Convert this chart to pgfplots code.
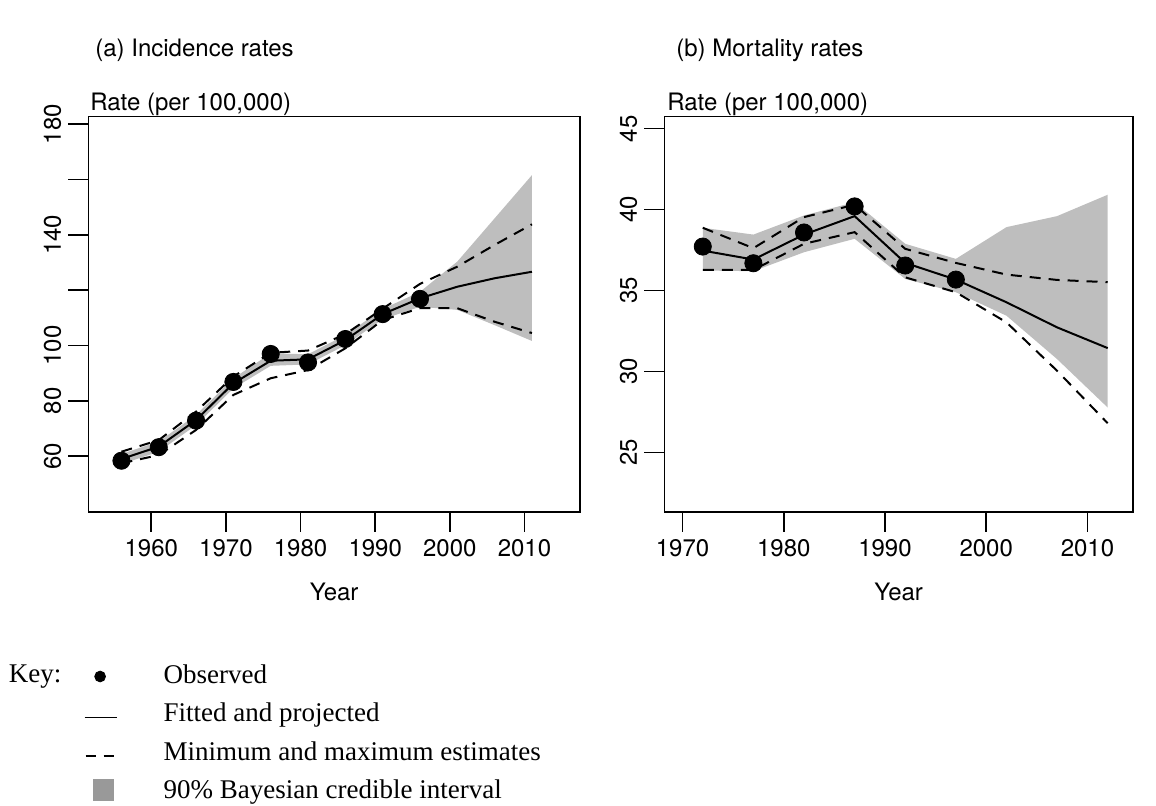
\documentclass[border=0pt]{standalone}
\usepackage{fontspec}
\setmainfont{TeX Gyre Heros}
\newfontfamily\keyfont{Liberation Serif}
\usepackage{pgfplots}
\pgfplotsset{compat=1.18}
\usepgfplotslibrary{fillbetween}
\usepackage{pgfplotstable}

\definecolor{band}{RGB}{190,190,190}
\definecolor{keygrey}{RGB}{153,153,153}

% Incidence: fitted/projected, min/max estimates, 90% interval
\pgfplotstableread{
year fit    lo     hi     bl     bu
1956 59.01  57.48  61.66  57.17  60.85
1961 63.50  60.44  65.85  61.66  65.34
1966 73.10  69.53  76.16  71.26  74.94
1971 86.37  82.19  88.82  84.54  88.21
1976 94.54  88.21  97.40  92.70  97.19
1981 95.05  91.17  98.22  93.21  96.89
1986 101.99 99.03  104.14 100.16 103.83
1991 111.39 109.24 113.33 109.55 113.23
1996 117.10 113.53 122.31 114.04 119.45
2001 121.29 113.53 128.54 112.92 130.38
2006 124.35 108.63 136.40 107.40 146.00
2011 126.70 104.55 143.85 101.69 161.62
}\incid
\pgfplotstableread{
year obs
1956 58.40
1961 63.30
1966 72.90
1971 86.88
1976 96.99
1981 93.93
1986 102.40
1991 111.39
1996 116.90
}\incidobs

% Mortality
\pgfplotstableread{
year fit   lo    hi    bl    bu
1972 37.47 36.28 38.88 36.24 38.88
1977 36.92 36.28 37.62 36.20 38.46
1982 38.46 37.89 39.54 37.37 39.64
1987 39.60 38.61 40.30 38.20 40.46
1992 36.71 35.82 37.58 35.72 37.89
1997 35.68 34.90 36.71 34.90 36.96
2002 34.28 33.04 35.99 33.45 38.92
2007 32.73 30.05 35.66 30.77 39.60
2012 31.45 26.81 35.52 27.78 40.92
}\mort
\pgfplotstableread{
year obs
1972 37.72
1977 36.69
1982 38.59
1987 40.20
1992 36.55
1997 35.68
}\mortobs

\pgfplotsset{
  rbase/.style={
    scale only axis,
    axis line style={line width=0.8bp},
    every tick/.style={line width=0.8bp, black},
    tick align=outside,
    major tick length=10bp,
    xtick pos=left,
    ytick pos=left,
    tick label style={font=\fontsize{12bp}{14bp}\selectfont},
    /pgf/number format/assume math mode=true,
    /pgf/number format/1000 sep={},
    yticklabel style={rotate=90, anchor=south},
    xticklabel style={anchor=north},
    xlabel style={font=\fontsize{12bp}{14bp}\selectfont,
      at={(axis description cs:0.5,0)}, anchor=base, yshift=-44.5bp},
  },
  fitline/.style={black, line width=1bp},
  mmline/.style={black, line width=1bp, dash pattern=on 5.5bp off 4bp},
  obsdots/.style={only marks, mark=*, mark size=4.3bp,
    mark options={fill=black, draw=black}},
}

\begin{document}
\begin{tikzpicture}
\path (0bp,0bp) rectangle (578bp,399bp);

% (a) Incidence rates
\begin{axis}[rbase,
  at={(44.15bp,143bp)}, anchor=south west,
  width=245.85bp, height=197.65bp,
  xmin=1951.56, xmax=2017.44, ymin=39.87, ymax=182.75,
  xtick={1960,1970,...,2010},
  ytick={60,80,100,120,140,160,180},
  yticklabels={60,80,100,,140,,180},
  xlabel={Year},
  legend style={draw=none, fill=none, inner sep=0pt, outer sep=0pt,
    at={(axis description cs:-0.0087,-0.382)}, anchor=north west,
    font=\keyfont\fontsize{13.5bp}{16bp}\selectfont,
    nodes={inner sep=0pt, text height=10bp, text depth=3.5bp},
    row sep=5.8bp, column sep=23bp},
  legend cell align=left,
]
\addplot[name path=ib, draw=none, forget plot] table[x=year,y=bl] {\incid};
\addplot[name path=it, draw=none, forget plot] table[x=year,y=bu] {\incid};
\addplot[band, forget plot] fill between[of=ib and it];
\addplot[mmline, forget plot] table[x=year,y=lo] {\incid};
\addplot[mmline, forget plot] table[x=year,y=hi] {\incid};
\addplot[fitline, forget plot] table[x=year,y=fit] {\incid};
\addplot[obsdots, forget plot] table[x=year,y=obs] {\incidobs};

\addlegendimage{legend image code/.code={
  \path[draw=none, fill=none] (0bp,-5bp) rectangle (15.5bp,5bp);
  \fill[black] (7.8bp,0bp) circle (2.7bp);}}
\addlegendentry{Observed}
\addlegendimage{legend image code/.code={
  \path[draw=none, fill=none] (0bp,-5bp) rectangle (15.5bp,5bp);
  \draw[black, line width=0.5bp] (0bp,-1bp) -- (16.3bp,-1bp);}}
\addlegendentry{Fitted and projected}
\addlegendimage{legend image code/.code={
  \path[draw=none, fill=none] (0bp,-5bp) rectangle (15.5bp,5bp);
  \draw[black, line width=1bp, dash pattern=on 5bp off 4bp] (0.5bp,-1bp) -- (14.5bp,-1bp);}}
\addlegendentry{Minimum and maximum estimates}
\addlegendimage{legend image code/.code={
  \path[draw=none, fill=none] (0bp,-5bp) rectangle (15.5bp,5bp);
  \fill[keygrey] (4.5bp,-4bp) rectangle (14.5bp,6.5bp);}}
\addlegendentry{90\% Bayesian credible interval}
\end{axis}

% (b) Mortality rates
\begin{axis}[rbase,
  at={(332.15bp,143bp)}, anchor=south west,
  width=234.35bp, height=197.65bp,
  xmin=1968.2, xmax=2014.5, ymin=21.33, ymax=45.74,
  xtick={1970,1980,...,2010},
  ytick={25,30,35,40,45},
  xlabel={Year},
]
\addplot[name path=mb, draw=none] table[x=year,y=bl] {\mort};
\addplot[name path=mt, draw=none] table[x=year,y=bu] {\mort};
\addplot[band] fill between[of=mb and mt];
\addplot[mmline] table[x=year,y=lo] {\mort};
\addplot[mmline] table[x=year,y=hi] {\mort};
\addplot[fitline] table[x=year,y=fit] {\mort};
\addplot[obsdots] table[x=year,y=obs] {\mortobs};
\end{axis}

% panel titles and axis captions
\begin{scope}[every node/.style={inner sep=0pt, font=\fontsize{12bp}{14bp}\selectfont}]
\node[anchor=base west] at (47.5bp,370.5bp) {(a) Incidence rates};
\node[anchor=base west] at (338bp,370.5bp) {(b) Mortality rates};
\node[anchor=base west] at (45bp,343.5bp) {Rate (per 100,000)};
\node[anchor=base west] at (333.5bp,343.5bp) {Rate (per 100,000)};
\end{scope}
\node[anchor=base west, inner sep=0pt, font=\keyfont\fontsize{13.5bp}{16bp}\selectfont]
  at (4.2bp,57.5bp) {Key:};
\end{tikzpicture}
\end{document}
